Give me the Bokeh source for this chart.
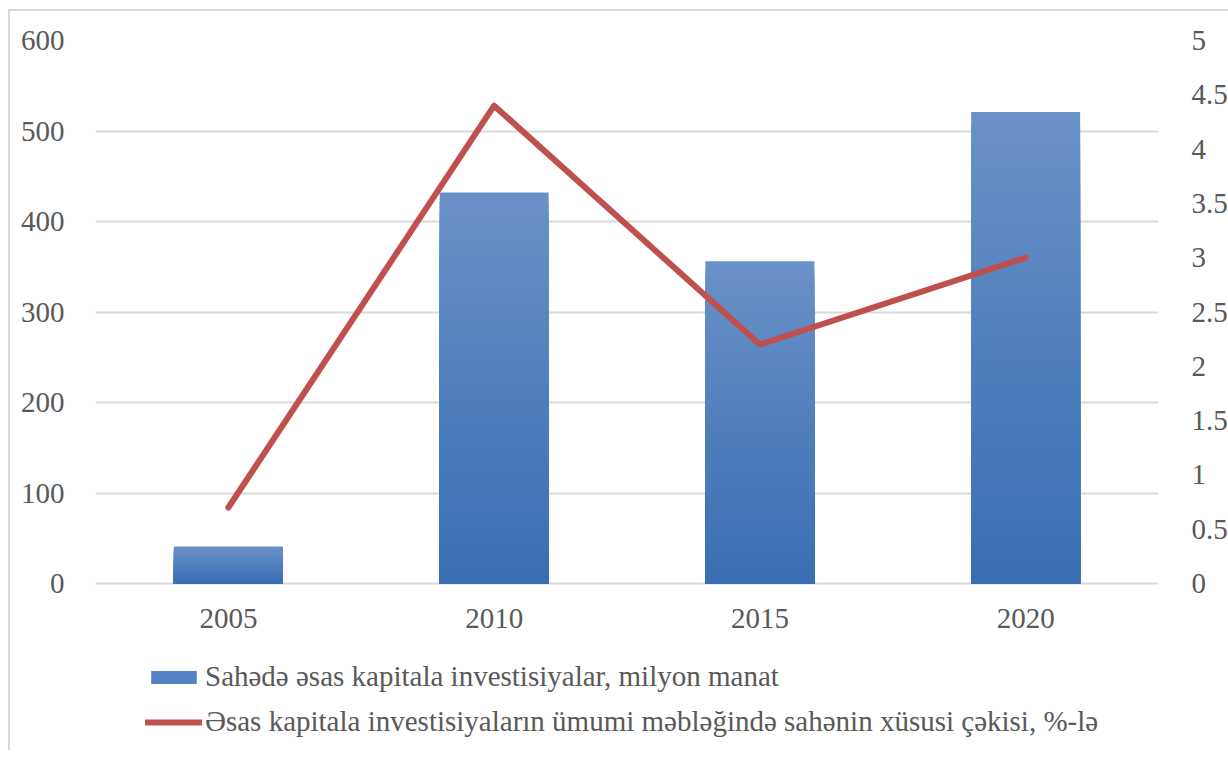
from bokeh.plotting import figure
from bokeh.models import (Range1d, LinearAxis, FixedTicker, FactorRange, Legend,
                          LegendItem, ColumnDataSource)
from bokeh.core.properties import value
from bokeh.embed import file_html
from bokeh.resources import INLINE

years = ["2005", "2010", "2015", "2020"]
investments = [41, 432, 356, 521]
share_pct = [0.7, 4.4, 2.2, 3.0]
left_ticks = [0, 100, 200, 300, 400, 500, 600]
right_ticks = [0, 0.5, 1, 1.5, 2, 2.5, 3, 3.5, 4, 4.5, 5]
right_labels = ["0", "0.5", "1", "1.5", "2", "2.5", "3", "3.5", "4", "4.5", "5"]
bar_name = "Sahədə əsas kapitala investisiyalar, milyon manat"
line_name = "Əsas kapitala investisiyaların ümumi məbləğində sahənin xüsusi çəkisi, %-lə"

FONT = "Liberation Serif"
GRAY = "#595959"
TOP_RGB = (0x6a, 0x91, 0xc7)
BOT_RGB = (0x39, 0x6e, 0xb3)

# layout (pixels)
PLOT_H = 543          # zero line to top tick
EXTRA_BELOW = 167     # space under zero line for year labels and legend
left_max = max(left_ticks)
right_max = max(right_ticks)

# gradient bars: overlapping bars from tallest (light) to shortest (dark)
N = 40
gx, gtop, gcol = [], [], []
for k in range(N):
    frac = (N - k) / N
    t = (N - k - 0.5) / N
    c = tuple(int(round(BOT_RGB[j] + (TOP_RGB[j] - BOT_RGB[j]) * t)) for j in range(3))
    for yr, v in zip(years, investments):
        gx.append(yr)
        gtop.append(v * frac)
        gcol.append("#%02x%02x%02x" % c)

p = figure(x_range=FactorRange(*years),
           y_range=Range1d(-left_max * EXTRA_BELOW / PLOT_H, left_max),
           frame_width=1063, frame_height=PLOT_H + EXTRA_BELOW,
           output_backend="svg", toolbar_location=None,
           min_border_left=85, min_border_right=70, min_border_top=29,
           min_border_bottom=0)
p.extra_y_ranges = {"pct": Range1d(-right_max * EXTRA_BELOW / PLOT_H, right_max)}
p.outline_line_color = None
p.styles = {"margin-left": "8px", "margin-top": "9px",
            "border-top": "2px solid #d9d9d9", "border-left": "2px solid #d9d9d9"}

p.xgrid.grid_line_color = None
p.ygrid.ticker = FixedTicker(ticks=left_ticks)
p.ygrid.grid_line_color = "#d9d9d9"
p.ygrid.grid_line_width = 2

p.vbar(x=gx, top=gtop, bottom=0, width=0.41, fill_color=gcol, line_color=None)
# zero-height proxy bar, used only for the legend swatch
bar_proxy = p.vbar(x=years[:1], top=[0], bottom=0, width=0.41,
                   fill_color="#5383c2", line_color=None)
line = p.line(x=years, y=share_pct, y_range_name="pct",
              line_color="#c0504d", line_width=6, line_cap="round", line_join="round")

# year labels under the zero line
p.text(x=years, y=[0] * len(years), text=years, y_offset=35,
       text_align="center", text_baseline="middle",
       text_font=value(FONT), text_font_size="29px", text_color=GRAY)

p.xaxis.visible = False

ya = p.yaxis[0]
ya.ticker = FixedTicker(ticks=left_ticks)
ya.axis_line_color = None
ya.major_tick_line_color = None
ya.minor_tick_line_color = None
ya.major_label_text_font = FONT
ya.major_label_text_font_size = "29px"
ya.major_label_text_color = GRAY
ya.major_label_standoff = 25

ra = LinearAxis(y_range_name="pct", ticker=FixedTicker(ticks=right_ticks),
                major_label_overrides={t: l for t, l in zip(right_ticks, right_labels)})
ra.axis_line_color = None
ra.major_tick_line_color = None
ra.minor_tick_line_color = None
ra.major_label_text_font = FONT
ra.major_label_text_font_size = "29px"
ra.major_label_text_color = GRAY
ra.major_label_standoff = 27
p.add_layout(ra, "right")

legend = Legend(items=[LegendItem(label=bar_name, renderers=[bar_proxy]),
                       LegendItem(label=line_name, renderers=[line])],
                orientation="vertical", location=(50, 12))
legend.border_line_color = None
legend.background_fill_alpha = 0
legend.label_text_font = FONT
legend.label_text_font_size = "29px"
legend.label_text_color = GRAY
legend.glyph_width = 57
legend.glyph_height = 16
legend.label_standoff = 3
legend.spacing = 12
legend.padding = 0
legend.margin = 0
p.add_layout(legend, "center")

open("out.html", "w").write(file_html(p, INLINE))
